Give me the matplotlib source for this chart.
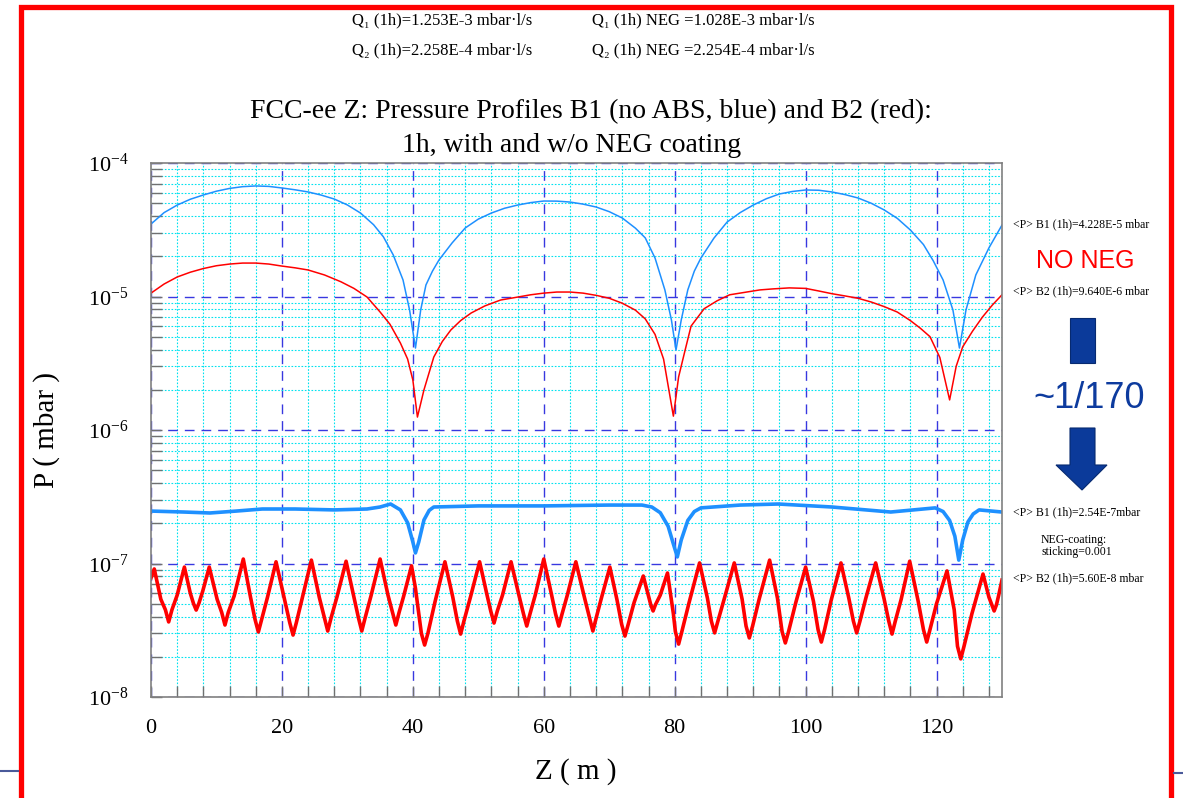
import numpy as np
import matplotlib
matplotlib.use("Agg")
import matplotlib.pyplot as plt
from matplotlib.ticker import MultipleLocator, LogLocator, NullFormatter
from matplotlib.patches import Polygon

W, H = 1183, 798

# B1 (blue), no NEG
z_b1 = [0, 2, 4, 6, 8, 10, 12, 14, 16, 18, 20, 22, 24, 26, 28, 30, 32, 34, 35.5, 37, 38.5, 39.5,
        40.4, 41.2, 42, 43, 44, 46, 48, 50, 52, 54, 56, 58, 60, 62, 64, 66, 68, 70, 72, 74, 75.5,
        77, 78.5, 79.5, 80.2, 81, 82, 83, 84, 86, 88, 90, 92, 94, 96, 98, 100, 102, 104, 106, 108,
        110, 112, 114, 116, 118, 119.5, 121, 122.5, 123.5, 124.5, 126, 128, 130]
p_b1 = [3.49e-5, 4.25e-5, 4.84e-5, 5.35e-5, 5.76e-5, 6.15e-5, 6.45e-5, 6.65e-5, 6.73e-5, 6.68e-5,
        6.50e-5, 6.30e-5, 6.07e-5, 5.75e-5, 5.37e-5, 4.85e-5, 4.22e-5, 3.45e-5, 2.80e-5, 2.05e-5,
        1.33e-5, 7.93e-6, 4.11e-6, 7.93e-6, 1.22e-5, 1.55e-5, 1.88e-5, 2.52e-5, 3.26e-5, 3.80e-5,
        4.22e-5, 4.58e-5, 4.84e-5, 5.05e-5, 5.19e-5, 5.18e-5, 5.10e-5, 4.92e-5, 4.68e-5, 4.32e-5,
        3.87e-5, 3.25e-5, 2.75e-5, 1.94e-5, 1.12e-5, 6.67e-6, 3.97e-6, 6.67e-6, 1.12e-5, 1.55e-5,
        1.94e-5, 2.74e-5, 3.61e-5, 4.25e-5, 4.84e-5, 5.40e-5, 5.86e-5, 6.12e-5, 6.28e-5, 6.25e-5,
        6.07e-5, 5.80e-5, 5.47e-5, 5.00e-5, 4.45e-5, 3.85e-5, 3.15e-5, 2.45e-5, 1.85e-5, 1.33e-5,
        7.93e-6, 4.11e-6, 7.93e-6, 1.45e-5, 2.31e-5, 3.43e-5]

# B2 (red), no NEG
z_b2 = [0, 2, 4, 6, 8, 10, 12, 14, 16, 18, 20, 22, 24, 26.5, 29, 31, 33, 35, 36.5, 38.1, 39.2, 40,
        40.7, 41.7, 43.2, 44.5, 45.8, 47.3, 48.9, 51, 53.4, 56, 58, 60, 62, 64, 66, 68, 70, 72, 74,
        75.5, 77, 78.3, 79.8, 80.6, 81.5, 82.5, 84.5, 86.5, 88.4, 91, 93, 95, 97.5, 100, 102, 104,
        106, 108, 110, 112, 114, 116, 117.5, 119, 120.5, 122, 123, 124, 125.5, 127, 128.5, 130]
p_b2 = [1.06e-5, 1.24e-5, 1.40e-5, 1.52e-5, 1.62e-5, 1.70e-5, 1.75e-5, 1.78e-5, 1.78e-5, 1.75e-5,
        1.69e-5, 1.64e-5, 1.58e-5, 1.45e-5, 1.29e-5, 1.15e-5, 9.91e-6, 7.65e-6, 6.20e-6, 4.48e-6,
        3.40e-6, 2.37e-6, 1.25e-6, 2.00e-6, 3.52e-6, 4.60e-6, 5.61e-6, 6.60e-6, 7.52e-6, 8.50e-6,
        9.41e-6, 9.90e-6, 1.03e-5, 1.06e-5, 1.08e-5, 1.08e-5, 1.06e-5, 1.02e-5, 9.70e-6, 8.90e-6,
        7.90e-6, 6.80e-6, 5.20e-6, 3.40e-6, 1.27e-6, 2.50e-6, 3.80e-6, 6.00e-6, 8.10e-6, 9.30e-6,
        1.03e-5, 1.08e-5, 1.12e-5, 1.14e-5, 1.16e-5, 1.15e-5, 1.10e-5, 1.05e-5, 1.01e-5, 9.70e-6,
        9.10e-6, 8.40e-6, 7.65e-6, 6.60e-6, 5.80e-6, 5.00e-6, 3.50e-6, 1.68e-6, 3.00e-6, 4.20e-6,
        5.50e-6, 7.00e-6, 8.60e-6, 1.03e-5]

# B1 (blue), NEG coating
z_b1n = [0, 5, 9, 13, 17, 22, 28, 33, 35, 36.6, 38.1, 39.2, 40.0, 40.4, 40.9, 41.7, 42.5, 43.2, 50,
         60, 70, 75, 76.5, 77.8, 79.0, 79.8, 80.4, 81.0, 82.0, 83, 84, 90, 95.8, 104, 113, 119.8,
         121, 122, 122.8, 123.4, 124.0, 124.8, 125.6, 126.5, 130]
p_b1n = [2.47e-7, 2.43e-7, 2.39e-7, 2.47e-7, 2.56e-7, 2.56e-7, 2.52e-7, 2.56e-7, 2.65e-7, 2.79e-7,
         2.52e-7, 2.02e-7, 1.45e-7, 1.20e-7, 1.45e-7, 2.12e-7, 2.50e-7, 2.65e-7, 2.70e-7, 2.70e-7,
         2.74e-7, 2.74e-7, 2.65e-7, 2.40e-7, 1.90e-7, 1.40e-7, 1.12e-7, 1.50e-7, 2.10e-7, 2.45e-7,
         2.61e-7, 2.74e-7, 2.79e-7, 2.65e-7, 2.43e-7, 2.61e-7, 2.45e-7, 2.10e-7, 1.60e-7, 1.06e-7,
         1.50e-7, 2.05e-7, 2.35e-7, 2.52e-7, 2.43e-7]

# B2 (red), NEG coating
z_b2n = [0.0, 0.5, 1.5, 2.2, 2.7, 3.2, 4.0, 5.1, 6.0, 6.5, 6.9, 7.3, 7.9, 8.9, 10.1, 10.8, 11.3,
         11.8, 12.7, 14.1, 15.2, 15.9, 16.4, 16.9, 17.8, 19.1, 20.4, 21.2, 21.7, 22.2, 23.1, 24.5,
         25.7, 26.5, 27.0, 27.5, 28.4, 29.8, 31.0, 31.7, 32.2, 32.7, 33.6, 35.0, 36.2, 36.9, 37.4,
         37.9, 38.6, 39.8, 40.4, 41.3, 41.8, 42.3, 43.4, 44.9, 46.1, 46.8, 47.3, 47.8, 48.8, 50.2,
         51.3, 51.9, 52.4, 52.9, 53.7, 55.0, 56.2, 56.9, 57.4, 57.9, 58.7, 60.0, 61.2, 61.8, 62.3,
         62.8, 63.6, 64.9, 66.2, 67.0, 67.5, 68.0, 68.8, 70.1, 71.2, 71.9, 72.4, 72.9, 73.8, 75.2,
         76.0, 76.35, 76.7, 77.05, 77.8, 78.9, 79.8, 80.1, 80.6, 81.1, 82.2, 83.8, 85.0, 85.6, 86.1,
         86.6, 87.6, 89.1, 90.3, 90.9, 91.4, 91.9, 92.9, 94.5, 95.7, 96.4, 96.9, 97.4, 98.5, 100.0,
         101.2, 101.9, 102.4, 102.9, 103.9, 105.4, 106.6, 107.3, 107.8, 108.3, 109.2, 110.7, 112.0,
         112.7, 113.2, 113.7, 114.6, 115.9, 117.2, 118.0, 118.5, 119.0, 120.0, 121.6, 122.7, 123.2,
         123.7, 124.2, 125.4, 127.1, 128.0, 128.45, 128.8, 129.15, 129.5, 130.0]
p_b2n = [7.8e-8, 9.1e-8, 5.4e-8, 4.5e-8, 3.65e-8, 4.5e-8, 5.8e-8, 9.4e-8, 6.0e-8, 5.0e-8, 4.48e-8,
         5.0e-8, 6.2e-8, 9.4e-8, 5.4e-8, 4.3e-8, 3.46e-8, 4.3e-8, 5.7e-8, 1.08e-7, 5.6e-8, 3.8e-8,
         3.07e-8, 3.8e-8, 5.6e-8, 1.03e-7, 5.4e-8, 3.6e-8, 2.91e-8, 3.6e-8, 5.5e-8, 1.06e-7, 5.6e-8,
         3.9e-8, 3.12e-8, 3.9e-8, 5.6e-8, 1.04e-7, 5.6e-8, 3.9e-8, 3.12e-8, 3.9e-8, 5.7e-8, 1.08e-7,
         5.8e-8, 4.3e-8, 3.46e-8, 4.3e-8, 5.7e-8, 9.6e-8, 6.5e-8, 3.0e-8, 2.45e-8, 3.0e-8, 5.2e-8,
         1.03e-7, 5.6e-8, 3.7e-8, 2.96e-8, 3.7e-8, 5.6e-8, 1.03e-7, 5.9e-8, 4.4e-8, 3.58e-8, 4.4e-8,
         5.8e-8, 1.03e-7, 5.8e-8, 4.2e-8, 3.40e-8, 4.2e-8, 5.8e-8, 1.08e-7, 5.8e-8, 4.2e-8, 3.40e-8,
         4.2e-8, 5.8e-8, 1.03e-7, 5.6e-8, 3.9e-8, 3.12e-8, 3.9e-8, 5.5e-8, 9.4e-8, 5.3e-8, 3.5e-8,
         2.86e-8, 3.5e-8, 5.1e-8, 8.06e-8, 5.7e-8, 4.9e-8, 4.41e-8, 4.9e-8, 5.8e-8, 8.49e-8, 4.2e-8,
         3.1e-8, 2.49e-8, 3.1e-8, 5.1e-8, 1.01e-7, 5.5e-8, 3.7e-8, 3.02e-8, 3.7e-8, 5.5e-8, 1.01e-7,
         5.4e-8, 3.4e-8, 2.77e-8, 3.4e-8, 5.4e-8, 1.06e-7, 5.5e-8, 3.1e-8, 2.54e-8, 3.1e-8, 5.1e-8,
         9.4e-8, 5.2e-8, 3.2e-8, 2.58e-8, 3.2e-8, 5.3e-8, 1.01e-7, 5.5e-8, 3.7e-8, 3.02e-8, 3.7e-8,
         5.5e-8, 1.01e-7, 5.4e-8, 3.7e-8, 2.96e-8, 3.7e-8, 5.4e-8, 1.04e-7, 5.2e-8, 3.2e-8, 2.58e-8,
         3.2e-8, 5.0e-8, 8.8e-8, 4.5e-8, 2.4e-8, 1.93e-8, 2.4e-8, 4.2e-8, 8.34e-8, 5.6e-8, 4.9e-8,
         4.41e-8, 4.9e-8, 5.8e-8, 7.52e-8]

top_texts = [["Q\u2081 (1h)=1.253E-3 mbar\u00b7l/s", "Q\u2081 (1h) NEG =1.028E-3 mbar\u00b7l/s"],
             ["Q\u2082 (1h)=2.258E-4 mbar\u00b7l/s", "Q\u2082 (1h) NEG =2.254E-4 mbar\u00b7l/s"]]
title_lines = ["FCC-ee Z: Pressure Profiles B1 (no ABS, blue) and B2 (red):",
               "1h, with and w/o NEG coating"]
mean_labels = ["<P> B1 (1h)=4.228E-5 mbar", "<P> B2 (1h)=9.640E-6 mbar",
               "<P> B1 (1h)=2.54E-7mbar", "<P> B2 (1h)=5.60E-8 mbar"]

plt.rcParams["font.family"] = ["Liberation Serif", "DejaVu Serif"]
plt.rcParams["mathtext.fontset"] = "stix"

def px(x, y):
    return (x / W, 1 - y / H)

fig = plt.figure(figsize=(W / 100, H / 100), dpi=100)
ax = fig.add_axes([151 / W, 1 - 697 / H, 851 / W, 534 / H])

blue = "#1e90ff"
red = "#ff0000"
ax.plot(z_b1, p_b1, color=blue, lw=1.1)
ax.plot(z_b2, p_b2, color=red, lw=1.1)
ax.plot(z_b1n, p_b1n, color=blue, lw=2.6)
ax.plot(z_b2n, p_b2n, color=red, lw=2.6, solid_joinstyle="round")

ax.set_yscale("log")
ax.set_xlim(0, 130)
ax.set_ylim(1e-8, 1e-4)
ax.xaxis.set_major_locator(MultipleLocator(20))
ax.xaxis.set_minor_locator(MultipleLocator(4))
ax.yaxis.set_major_locator(LogLocator(base=10, numticks=10))
ax.yaxis.set_minor_locator(LogLocator(base=10, subs=np.arange(2, 10), numticks=20))
ax.yaxis.set_minor_formatter(NullFormatter())

ax.grid(which="minor", color="#00e3f0", linestyle=(0, (1.5, 1.5)), lw=0.8)
ax.grid(which="major", color="#3838e0", linestyle=(0, (7, 5)), lw=1.0)
ax.set_axisbelow(True)

for s in ax.spines.values():
    s.set_color("#808080")
    s.set_linewidth(1.2)
ax.tick_params(which="both", direction="in", length=8, color="#707070", width=1.0,
               labelsize=16, top=False, right=False)
ax.tick_params(axis="x", pad=16)
ax.tick_params(axis="y", pad=16)

fig.text(*px(47, 430), "P ( mbar )", rotation=90, ha="center", va="center", fontsize=21)
fig.text(*px(576, 772), "Z ( m )", ha="center", va="center", fontsize=21)

fig.text(*px(591, 112), title_lines[0], ha="center", va="center", fontsize=20)
fig.text(*px(572, 145), title_lines[1], ha="center", va="center", fontsize=20)

for i, row in enumerate(top_texts):
    fig.text(*px(352, 20 + 30 * i), row[0], ha="left", va="center", fontsize=12)
    fig.text(*px(592, 20 + 30 * i), row[1], ha="left", va="center", fontsize=12)

for lab, yy in zip(mean_labels, [224, 291, 512, 578]):
    fig.text(*px(1013, yy), lab, ha="left", va="center", fontsize=8.5)
fig.text(*px(1041, 546), "NEG-coating:\nsticking=0.001", ha="left", va="center",
         fontsize=8.5, linespacing=1.0)

fig.text(*px(1085, 261), "NO NEG", ha="center", va="center", color="#ff0000",
         fontsize=18, family="Liberation Sans")
fig.text(*px(1089, 398), "~1/170", ha="center", va="center", color="#0d3b9e",
         fontsize=26, family="Liberation Sans")

arrow_col = "#0b3a9a"
rect = [px(1070, 318), px(1095, 318), px(1095, 363), px(1070, 363)]
fig.patches.append(Polygon(rect, closed=True, transform=fig.transFigure, fc=arrow_col,
                           ec="#072a70", lw=0.8))
arr = [px(1070, 428), px(1095, 428), px(1095, 465), px(1107, 465), px(1082, 490),
       px(1056, 465), px(1070, 465)]
fig.patches.append(Polygon(arr, closed=True, transform=fig.transFigure, fc=arrow_col,
                           ec="#072a70", lw=0.8))

# slide frame
frame = "#ff0000"
fig.add_artist(plt.Line2D([20.5 / W, 20.5 / W, 1170.5 / W, 1170.5 / W],
                          [0, 1 - 6.5 / H, 1 - 6.5 / H, 0], transform=fig.transFigure,
                          color=frame, lw=3.8, solid_joinstyle="miter"))
fig.add_artist(plt.Line2D([0, 18 / W], [1 - 771 / H, 1 - 771 / H], transform=fig.transFigure,
                          color="#4a5a9a", lw=1.5))
fig.add_artist(plt.Line2D([1174 / W, 1], [1 - 773 / H, 1 - 773 / H], transform=fig.transFigure,
                          color="#4a5a9a", lw=1.5))

fig.savefig("out.png", dpi=100)
